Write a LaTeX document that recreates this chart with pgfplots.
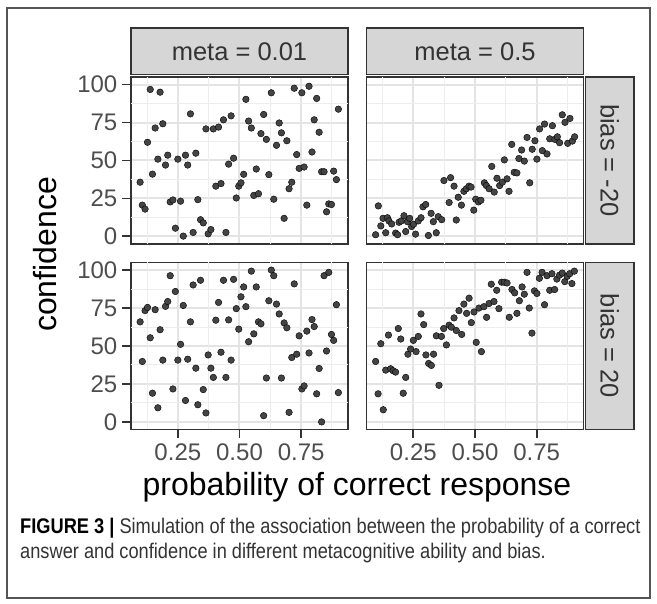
\documentclass[border=0pt]{standalone}
\usepackage{pgfplots}
\pgfplotsset{compat=1.18}
\usepackage{fontspec}
\setmainfont{Liberation Sans}
\newfontfamily\capfont[FakeStretch=0.86]{Liberation Sans}
\definecolor{grey20}{HTML}{333333}
\definecolor{gridc}{HTML}{E4E4E4}
\definecolor{gridm}{HTML}{EDEDED}
\definecolor{stripc}{HTML}{D6D6D6}
\definecolor{tickc}{HTML}{4D4D4D}
\definecolor{dotc}{HTML}{444444}
\definecolor{framec}{HTML}{555555}
\pgfplotsset{
  panel/.style={
    scale only axis, width=217pt, height=167pt,
    xmin=0.06, xmax=0.94, ymin=-5, ymax=105,
    xtick={0.25,0.5,0.75}, ytick={0,25,50,75,100},
    extra x ticks={0.125,0.375,0.625,0.875},
    extra y ticks={12.5,37.5,62.5,87.5},
    extra x tick labels={}, extra y tick labels={},
    extra tick style={grid=major, major grid style={draw=gridm, line width=1pt}, major tick length=0pt},
    grid=major,
    major grid style={draw=gridc, line width=2pt},
    axis line style={draw=grey20, line width=1.2pt},
    tick style={draw=grey20, line width=1.8pt},
    tick align=outside, major tick length=0pt,
    xtick pos=left, ytick pos=left,
    xticklabels={}, yticklabels={},
    ticklabel style={font=\fontsize{24}{24}\selectfont, text=tickc, inner sep=0pt},
    yticklabel style={xshift=-5pt},
    xticklabel style={yshift=-6pt},
    clip=false,
  },
  leftcol/.style={major tick length=8.5pt, yticklabels={0,25,50,75,100}},
  bottomrow/.style={major tick length=8.5pt, xticklabels={0.25,0.50,0.75}},
  dots/.style={only marks, mark=*, mark size=3.3pt, mark options={draw=none, fill=dotc}},
}
\begin{document}
\begin{tikzpicture}[x=1pt,y=1pt]
\useasboundingbox (0,0) rectangle (657,604);
\draw[framec, line width=1.3pt] (7,596) rectangle (650,6);

% top-left: meta = 0.01, bias = -20
\begin{axis}[panel, leftcol, xtick style={draw=none}, at={(131pt,360pt)}, anchor=south west]
\addplot[dots] coordinates {
(0.097,35.7)(0.106,20.6)(0.117,18)(0.127,62)(0.138,96.8)(0.147,41)(0.158,71.4)(0.169,50.9)(0.178,95)(0.189,74.2)
(0.200,47)(0.209,53.5)(0.219,22.7)(0.230,24)(0.240,5.4)(0.250,50.9)(0.261,23.2)(0.272,0.2)(0.281,53.5)(0.290,47)
(0.301,80.7)(0.312,2.6)(0.323,54.8)(0.331,24.2)(0.342,11)(0.353,8.9)(0.364,70.8)(0.373,1.7)(0.384,4.5)(0.394,70.8)
(0.404,33.1)(0.415,72)(0.425,34.8)(0.435,76.8)(0.445,2.6)(0.456,47.6)(0.466,79.4)(0.476,51.5)(0.487,25.3)(0.497,33.1)
(0.506,35.3)(0.517,40.9)(0.526,90.3)(0.537,76)(0.548,71.4)(0.558,27)(0.568,44.4)(0.577,28.1)(0.587,67.7)(0.598,80.3)
(0.609,63.9)(0.619,40.7)(0.629,94.6)(0.639,24.5)(0.650,60)(0.661,74.7)(0.670,68.2)(0.681,11.9)(0.692,63)(0.701,31.4)
(0.712,35.7)(0.722,97.6)(0.732,53.9)(0.742,44.8)(0.753,94.6)(0.762,45.7)(0.773,20.6)(0.782,98.9)(0.794,55.6)(0.803,76.8)
(0.813,90.9)(0.823,68.6)(0.833,42.6)(0.843,42.6)(0.853,16.2)(0.862,21.4)(0.873,21)(0.882,43)(0.893,37.4)(0.901,83.8)
};
\end{axis}

% top-right: meta = 0.5, bias = -20
\begin{axis}[panel, at={(366.5pt,360pt)}, anchor=south west]
\addplot[dots] coordinates {
(0.097,1.1)(0.108,20.1)(0.118,6.9)(0.127,11.9)(0.138,2.4)(0.145,12.3)(0.151,10.2)(0.162,8.2)(0.178,2.2)(0.186,1.1)
(0.192,9.3)(0.201,10.2)(0.212,13.6)(0.219,3.2)(0.226,9.7)(0.235,11.9)(0.243,6.5)(0.251,8)(0.259,1.5)(0.270,10.2)
(0.281,12.3)(0.289,19.5)(0.300,21)(0.311,0.6)(0.322,15.2)(0.331,9.7)(0.343,2.4)(0.351,13)(0.365,11)(0.374,36.8)
(0.395,22.3)(0.401,38.7)(0.415,33.1)(0.424,10.8)(0.432,25.8)(0.445,20.6)(0.455,29.7)(0.465,31.4)(0.476,33.1)(0.484,32.5)
(0.495,17.3)(0.503,24.5)(0.514,22.7)(0.524,23.8)(0.538,35.3)(0.546,33.5)(0.557,31.4)(0.568,46.1)(0.578,29.2)(0.589,38.3)
(0.600,33.5)(0.611,35.7)(0.619,50.4)(0.630,37.9)(0.638,29.7)(0.649,60.6)(0.659,42.2)(0.670,41.8)(0.678,51.3)(0.689,56.9)
(0.700,49.6)(0.711,65.2)(0.722,35.3)(0.732,57.4)(0.743,63)(0.751,50.9)(0.762,70.8)(0.773,56.5)(0.782,74)(0.792,54.3)
(0.803,64.3)(0.814,72.9)(0.824,63.9)(0.834,65.6)(0.843,61.7)(0.854,80.1)(0.865,75.1)(0.876,61.3)(0.885,77.7)(0.895,62.8)
(0.904,65.6)
};
\end{axis}

% bottom-left: meta = 0.01, bias = 20
\begin{axis}[panel, leftcol, bottomrow, at={(131pt,174.5pt)}, anchor=south west]
\addplot[dots] coordinates {
(0.097,65.9)(0.106,39.8)(0.117,73.3)(0.127,75.4)(0.138,55.4)(0.147,18.9)(0.158,73.9)(0.169,9.3)(0.178,60.7)(0.189,40.7)
(0.200,76.1)(0.209,79.3)(0.219,96.3)(0.230,21.7)(0.240,85.9)(0.250,40.7)(0.261,51.1)(0.272,76.7)(0.281,14.1)(0.290,41.3)
(0.301,65.9)(0.312,90.2)(0.323,35.4)(0.331,11.3)(0.342,93.3)(0.353,21.3)(0.364,5.9)(0.373,44.1)(0.384,35.4)(0.394,29.3)
(0.404,67)(0.415,78.7)(0.425,45.9)(0.435,93.3)(0.445,29.3)(0.456,67.2)(0.466,40.7)(0.476,93.9)(0.487,74.6)(0.497,61.1)
(0.506,82.4)(0.517,88.9)(0.526,75.9)(0.537,52.8)(0.548,99.3)(0.558,58)(0.568,88.9)(0.577,65.9)(0.587,64.6)(0.598,4.1)
(0.609,28.9)(0.619,79.8)(0.629,100)(0.639,96.3)(0.650,77.6)(0.661,71.1)(0.670,28.9)(0.681,65.2)(0.692,62)(0.701,6.3)
(0.712,42.4)(0.722,90.9)(0.732,44.6)(0.742,56.7)(0.753,21.7)(0.762,23.7)(0.773,59.8)(0.782,45.4)(0.794,67.4)(0.803,62.8)
(0.813,18.5)(0.823,35.2)(0.833,0)(0.843,96.3)(0.853,46.7)(0.862,98.5)(0.873,57.6)(0.882,53.7)(0.893,77.2)(0.901,19.3)
};
\end{axis}

% bottom-right: meta = 0.5, bias = 20
\begin{axis}[panel, bottomrow, ytick style={draw=none}, at={(366.5pt,174.5pt)}, anchor=south west]
\addplot[dots] coordinates {
(0.097,39.8)(0.107,18.5)(0.118,51.5)(0.128,8)(0.138,34.1)(0.149,57.2)(0.158,35)(0.168,33.7)(0.178,32.8)(0.189,61.5)
(0.199,54.6)(0.209,18.9)(0.219,29.3)(0.228,44.6)(0.239,48)(0.250,53.7)(0.261,46.3)(0.270,56.3)(0.281,71.1)(0.292,64.1)
(0.301,44.1)(0.312,38.5)(0.323,37.2)(0.332,44.6)(0.343,56.7)(0.354,24.1)(0.364,56.3)(0.373,61.5)(0.384,50.7)(0.395,63.7)
(0.404,62.4)(0.415,68.5)(0.424,60.2)(0.435,73.3)(0.446,57.6)(0.455,77.6)(0.466,71.5)(0.476,81.5)(0.485,65.4)(0.496,72.4)
(0.505,52.4)(0.516,75)(0.526,46.3)(0.536,75.9)(0.547,68.9)(0.557,78)(0.566,90.7)(0.577,79.3)(0.588,86.7)(0.597,74.6)
(0.608,92)(0.619,92)(0.630,91.5)(0.639,68.9)(0.650,87.2)(0.661,85)(0.670,71.5)(0.680,79.8)(0.691,88.9)(0.700,84.1)
(0.711,98.5)(0.720,75)(0.731,58.5)(0.741,86.3)(0.751,84.6)(0.761,94.6)(0.772,98.5)(0.782,77.2)(0.792,96.3)(0.803,86.7)
(0.812,97.6)(0.823,87.2)(0.832,94.1)(0.843,96.7)(0.854,98)(0.864,92.4)(0.874,95.9)(0.884,97.6)(0.893,91.1)(0.903,99.3)
};
\end{axis}

% strips
\tikzset{strip/.style={fill=stripc, draw=grey20, line width=1.2pt}}
\draw[strip] (131,529.5) rectangle (348,576);
\draw[strip] (366.5,529.5) rectangle (583.5,576);
\draw[strip] (585.5,360) rectangle (634,527);
\draw[strip] (585.5,174.5) rectangle (634,341.5);
\node[text=grey20, font=\fontsize{25.5}{25.5}\selectfont] at (239.5,552.5) {meta = 0.01};
\node[text=grey20, font=\fontsize{25.5}{25.5}\selectfont] at (475,552.5) {meta = 0.5};
\node[text=grey20, font=\fontsize{25.5}{25.5}\selectfont, rotate=-90] at (609.75,443.5) {bias = -20};
\node[text=grey20, font=\fontsize{25.5}{25.5}\selectfont, rotate=-90] at (609.75,258) {bias = 20};

% axis titles
\node[font=\fontsize{32}{32}\selectfont, rotate=90] at (45,349.5) {confidence};
\node[font=\fontsize{32}{32}\selectfont] at (357,117) {probability of correct response};

% caption
\node[anchor=base west, inner sep=0pt, font=\capfont\fontsize{21.2}{21.2}\selectfont, text=grey20] at (20,70) {\textbf{\color{black}FIGURE 3 |} Simulation of the association between the probability of a correct};
\node[anchor=base west, inner sep=0pt, font=\capfont\fontsize{21.2}{21.2}\selectfont, text=grey20] at (20,45) {answer and confidence in different metacognitive ability and bias.};
\end{tikzpicture}
\end{document}
